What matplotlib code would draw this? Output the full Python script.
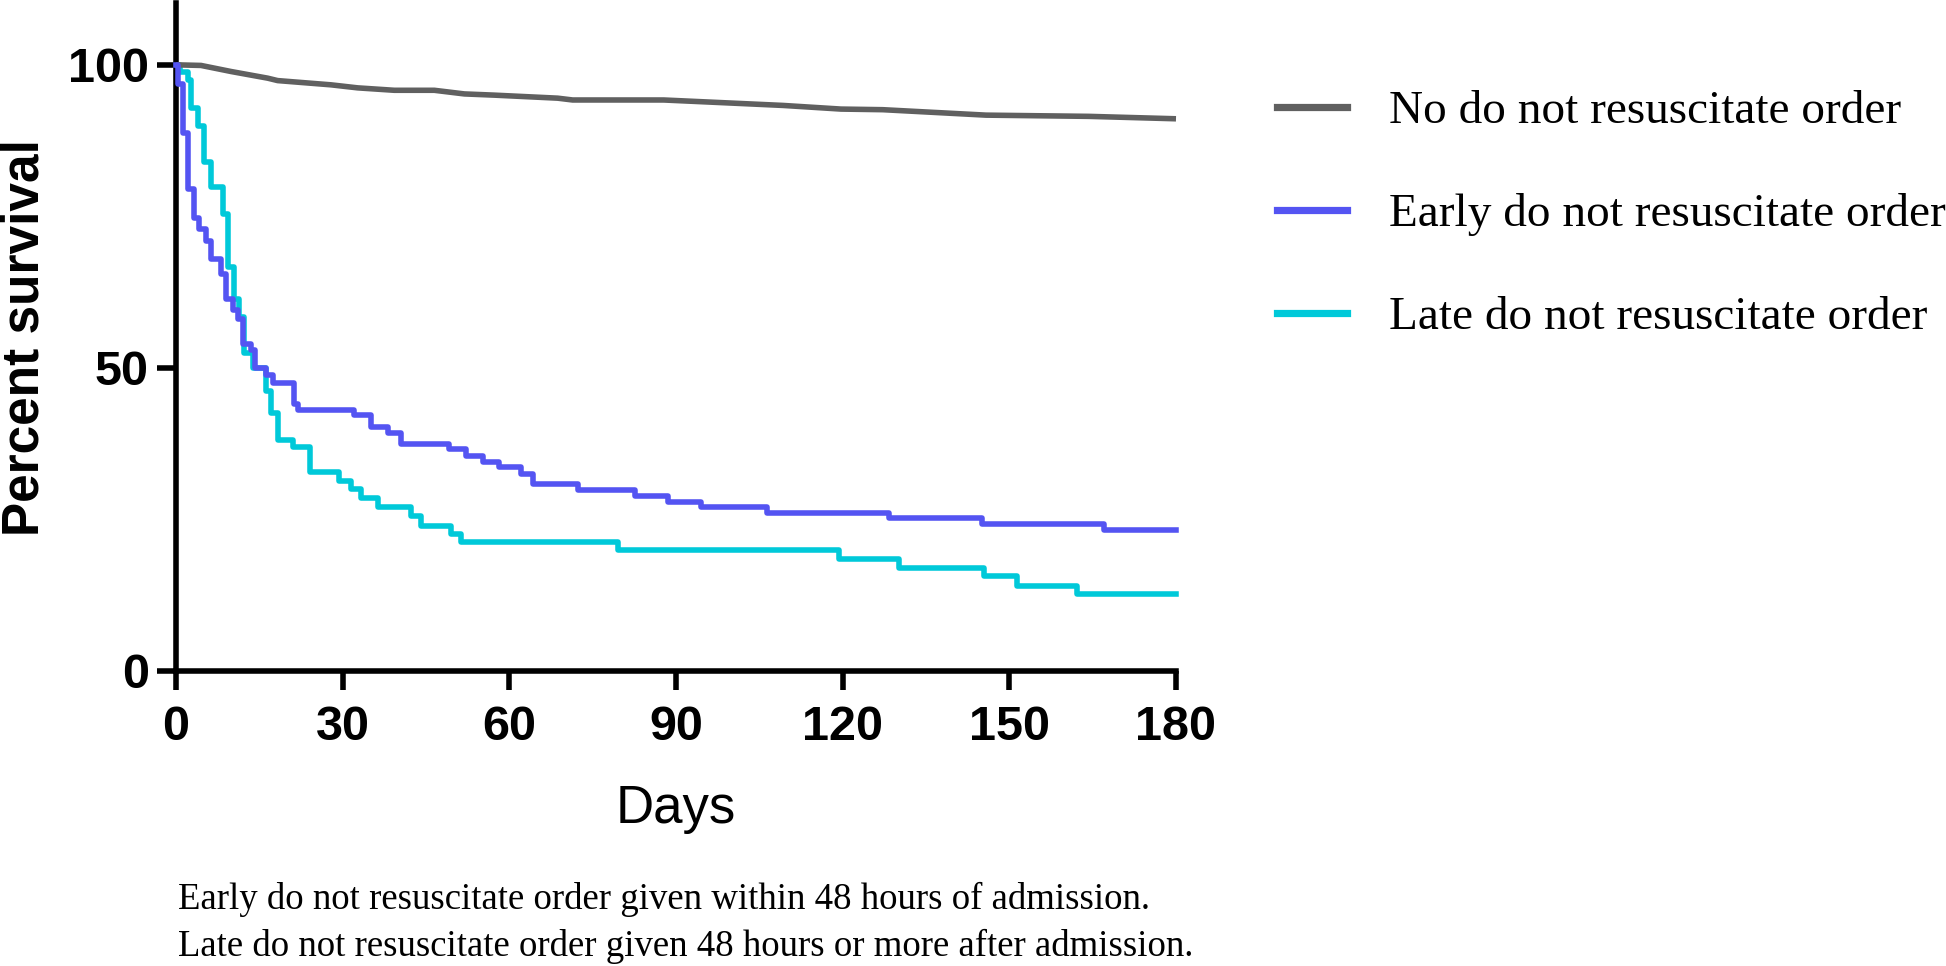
import matplotlib.pyplot as plt
from matplotlib.lines import Line2D

# Kaplan-Meier estimates (days, percent survival)
no_dnr_days = [0, 4.5, 9.9, 16.5, 18.3, 27.9, 32.7, 39.3, 46.5, 51.9, 57.3,
               68.7, 71.4, 87.8, 109.3, 119.7, 127.2, 145.8, 164.3, 180]
no_dnr_surv = [100, 99.9, 98.9, 97.8, 97.4, 96.7, 96.2, 95.8, 95.8, 95.2, 95.0,
               94.5, 94.2, 94.2, 93.3, 92.7, 92.6, 91.7, 91.5, 91.1]

early_days = [0, 0.3, 1.2, 2.2, 3.2, 4.2, 5.4, 6.3, 8.1, 9.0, 10.2, 11.1, 12.0,
              13.5, 14.2, 16.2, 17.4, 21.2, 21.9, 32.1, 35.1, 38.1, 40.5, 49.2,
              52.2, 55.2, 58.2, 62.1, 64.2, 72.4, 82.6, 88.5, 94.5, 106.4,
              128.3, 145.0, 167.0, 180]
early_surv = [100, 96.8, 88.8, 79.5, 74.7, 72.9, 71.0, 68.0, 65.5, 61.4, 59.5,
              58.0, 54.0, 52.9, 50.0, 48.8, 47.5, 44.0, 43.0, 42.2, 40.3, 39.3,
              37.4, 36.6, 35.5, 34.4, 33.7, 32.5, 30.9, 29.8, 28.9, 27.8, 27.0,
              26.1, 25.2, 24.2, 23.2, 23.2]

late_days = [0, 0.8, 2.2, 2.7, 3.9, 5.1, 6.3, 8.4, 9.3, 10.4, 11.4, 12.3, 13.8,
             16.2, 17.1, 18.3, 21.0, 24.2, 29.4, 31.5, 33.3, 36.3, 42.3, 44.1,
             49.5, 51.3, 79.6, 119.4, 130.1, 145.4, 151.3, 162.1, 180]
late_surv = [100, 98.8, 97.5, 92.8, 89.9, 84.0, 79.9, 75.4, 66.6, 61.4, 58.4,
             52.5, 50.0, 46.2, 42.5, 38.1, 37.0, 32.9, 31.4, 30.0, 28.5, 27.0,
             25.5, 24.0, 22.6, 21.3, 19.9, 18.4, 17.0, 15.6, 14.1, 12.7, 12.7]

labels = ["No do not resuscitate order", "Early do not resuscitate order",
          "Late do not resuscitate order"]
colors = ["#606060", "#5454f2", "#00c9d9"]
x_ticks = [0, 30, 60, 90, 120, 150, 180]
y_ticks = [0, 50, 100]

W, H = 1946, 966
fig = plt.figure(figsize=(W / 100, H / 100), dpi=100)
ax = fig.add_axes([176 / W, 1 - 671 / H, 1000 / W, 668 / H])

ax.plot(no_dnr_days, no_dnr_surv, color=colors[0], lw=4.0, clip_on=False,
        solid_capstyle="butt", zorder=3)
ax.step(early_days, early_surv, where="post", color=colors[1], lw=4.0,
        clip_on=False, zorder=4)
ax.step(late_days, late_surv, where="post", color=colors[2], lw=4.0,
        clip_on=False, zorder=2)

ax.set_xlim(0, 180)
ax.set_ylim(0, 110.2)
for side in ["top", "right"]:
    ax.spines[side].set_visible(False)
for side in ["left", "bottom"]:
    ax.spines[side].set_linewidth(4.0)
    ax.spines[side].set_capstyle("projecting")

ax.set_xticks(x_ticks)
ax.set_yticks(y_ticks)
ax.tick_params(axis="both", direction="out", length=13.5, width=4.0)
ax.tick_params(axis="x", pad=11)
ax.tick_params(axis="y", pad=6)
for lab in ax.get_xticklabels() + ax.get_yticklabels():
    lab.set_fontfamily("Liberation Sans")
    lab.set_fontweight("bold")
    lab.set_fontsize(35)

fig.text(25 / W, 1 - 338 / H, "Percent survival", rotation=90,
         ha="center", va="center", family="Liberation Sans",
         weight="bold", fontsize=37)
fig.text(676 / W, 1 - 823 / H, "Days", ha="center", va="baseline",
         family="Liberation Sans", fontsize=38)

handles = [Line2D([], [], color=c, lw=5.2) for c in colors]
fig.legend(handles, labels, loc="upper left",
           bbox_to_anchor=(1277 / W, 1 - 90 / H), frameon=False,
           prop={"family": "Liberation Serif", "size": 34},
           handlelength=1.48, handletextpad=0.9, labelspacing=1.27,
           borderpad=0, borderaxespad=0)

fig.text(178 / W, 1 - 909 / H,
         "Early do not resuscitate order given within 48 hours of admission.",
         va="baseline", family="Liberation Serif", fontsize=26.5)
fig.text(178 / W, 1 - 956 / H,
         "Late do not resuscitate order given 48 hours or more after admission.",
         va="baseline", family="Liberation Serif", fontsize=26.5)

fig.savefig("out.png", dpi=100)
